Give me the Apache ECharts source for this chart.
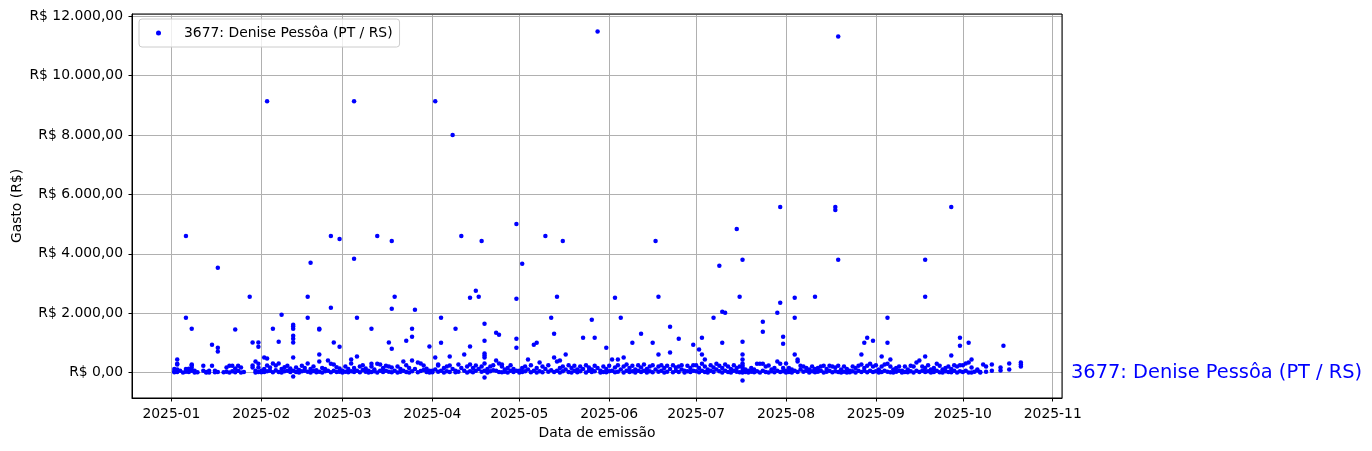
<!DOCTYPE html>
<html>
<head>
<meta charset="utf-8">
<script src="https://cdn.jsdelivr.net/npm/echarts@6/dist/echarts.min.js"></script>
<style>
html,body{margin:0;padding:0;background:#fff;}
#chart{width:1372px;height:451px;}
</style>
</head>
<body>
<div id="chart"></div>
<script>
// ---- data: [day of month, value in R$] per month of 2025 ----
const seriesName = '3677: Denise Pessôa (PT / RS)';
const yAxisName = 'Gasto (R$)';
const xAxisName = 'Data de emissão';
const year = 2025;

const jan = [[2,120],[2,40],[2,10],[3,440],[3,300],[3,270],[3,100],[3,20],[4,60],[5,0],[6,4600],[6,1850],[6,120],[6,30],[7,130],[7,15],[8,1480],[8,250],[8,270],[8,160],[8,60],[9,0],[9,60],[10,10],[12,60],[12,230],[13,5],[13,20],[14,60],[14,0],[15,940],[15,230],[16,60],[16,10],[17,3530],[17,840],[17,710],[17,20],[19,10],[20,170],[20,30],[21,230],[21,0],[22,230],[22,40],[23,1450],[23,140],[23,10],[24,230],[24,60],[25,170],[25,0],[26,20],[28,2550],[29,1010],[29,235],[29,168],[30,370],[30,60],[30,0],[31,1010],[31,870],[31,300],[31,170],[31,20]];
const feb = [[1,60],[1,10],[2,504],[2,120],[2,20],[3,9140],[3,470],[3,235],[3,40],[4,168],[4,60],[5,1480],[5,302],[5,10],[6,235],[6,80],[7,1042],[7,302],[7,20],[8,1950],[8,120],[8,0],[9,180],[9,40],[10,60],[10,230],[11,20],[11,140],[12,1610],[12,1550],[12,1480],[12,1240],[12,1140],[12,1010],[12,504],[12,-130],[12,60],[13,170],[13,20],[14,90],[14,0],[15,230],[15,40],[16,60],[16,150],[17,2554],[17,1848],[17,302],[17,30],[18,3696],[18,120],[18,0],[19,200],[19,50],[20,80],[20,10],[21,1450],[21,1480],[21,605],[21,370],[21,30],[22,150],[22,0],[23,120],[23,40],[24,403],[24,60],[25,4600],[25,2180],[25,300],[25,10],[26,1010],[26,270],[26,60],[27,180],[27,20],[28,4500],[28,870],[28,140],[28,30]];
const mar = [[1,60],[1,0],[2,200],[2,30],[3,120],[3,10],[4,437],[4,302],[4,40],[5,9140],[5,3830],[5,150],[5,20],[6,1850],[6,538],[6,60],[7,200],[7,10],[8,90],[8,250],[9,30],[9,140],[10,60],[10,0],[11,1480],[11,300],[11,200],[11,20],[12,100],[12,40],[13,4600],[13,300],[13,0],[14,270],[14,60],[15,150],[15,20],[16,60],[16,230],[17,1010],[17,200],[17,30],[18,4435],[18,2150],[18,806],[18,170],[18,10],[19,2554],[19,60],[20,200],[20,0],[21,120],[21,30],[22,370],[22,60],[23,1075],[23,250],[23,20],[24,150],[24,0],[25,1480],[25,1210],[25,403],[25,40],[26,2117],[26,120],[27,336],[27,10],[28,302],[28,50],[29,90],[29,235],[30,20],[30,130],[31,874],[31,60],[31,0]];
const apr = [[1,60],[1,10],[2,9140],[2,504],[2,100],[3,269],[3,235],[3,30],[4,1848],[4,1008],[4,60],[5,150],[5,0],[6,200],[6,40],[7,538],[7,235],[7,20],[8,8000],[8,120],[9,1478],[9,60],[9,10],[10,269],[10,30],[11,4600],[11,150],[12,605],[12,60],[13,200],[13,0],[14,2520],[14,874],[14,269],[14,40],[15,150],[15,10],[16,2755],[16,235],[16,60],[17,2554],[17,120],[18,4435],[18,200],[18,30],[19,1646],[19,1075],[19,638],[19,571],[19,504],[19,302],[19,-168],[19,60],[20,120],[20,0],[21,200],[21,40],[22,80],[22,250],[23,1344],[23,403],[23,60],[24,1277],[24,302],[24,20],[25,269],[25,200],[25,10],[26,100],[26,30],[27,150],[27,0],[28,250],[28,60],[29,120],[29,20],[30,5006],[30,2486],[30,1142],[30,840],[30,60]];
const may = [[1,60],[1,0],[2,3662],[2,150],[2,20],[3,200],[3,40],[4,437],[4,100],[5,250],[5,10],[6,941],[6,60],[7,1008],[7,150],[7,0],[8,336],[8,40],[9,200],[9,10],[10,4600],[10,120],[11,250],[11,30],[12,1848],[12,80],[13,504],[13,1310],[13,20],[14,2554],[14,370],[14,60],[15,403],[15,150],[15,0],[16,4435],[16,200],[16,40],[17,605],[17,100],[18,250],[18,20],[19,150],[19,0],[20,60],[20,230],[21,100],[21,10],[22,200],[22,40],[23,1176],[23,120],[24,250],[24,0],[25,60],[25,170],[26,1781],[26,100],[26,20],[27,1176],[27,230],[27,40],[28,11491],[28,150],[29,60],[29,0],[30,200],[30,20],[31,840],[31,120],[31,10]];
const jun = [[1,230],[1,40],[2,437],[2,60],[3,2520],[3,170],[3,10],[4,437],[4,250],[4,30],[5,1848],[5,100],[6,504],[6,200],[6,0],[7,60],[7,270],[8,150],[8,20],[9,1008],[9,230],[9,40],[10,100],[10,0],[11,250],[11,60],[12,1310],[12,170],[12,20],[13,270],[13,60],[14,120],[14,0],[15,200],[15,40],[16,1008],[16,250],[16,10],[17,4435],[17,100],[18,2554],[18,605],[18,200],[18,30],[19,250],[19,60],[20,150],[20,0],[21,230],[21,30],[22,1546],[22,672],[22,120],[23,250],[23,10],[24,170],[24,60],[25,1142],[25,200],[25,20],[26,100],[26,250],[27,60],[27,0],[28,230],[28,40],[29,150],[29,20],[30,941],[30,250],[30,60]];
const jul = [[1,250],[1,40],[2,773],[2,150],[2,10],[3,1176],[3,605],[3,300],[3,60],[4,437],[4,200],[4,20],[5,100],[5,0],[6,250],[6,60],[7,1848],[7,170],[7,20],[8,300],[8,100],[9,3595],[9,230],[9,40],[10,1008],[10,2050],[10,150],[10,0],[11,2016],[11,270],[11,60],[12,200],[12,20],[13,120],[13,0],[14,250],[14,60],[15,4838],[15,150],[15,30],[16,2554],[16,200],[16,10],[17,3797],[17,1042],[17,605],[17,437],[17,302],[17,235],[17,168],[17,-269],[17,60],[17,0],[18,100],[18,20],[19,60],[19,0],[20,150],[20,30],[21,100],[21,10],[22,300],[22,40],[23,300],[23,0],[24,1714],[24,1378],[24,300],[24,60],[25,200],[25,20],[26,235],[26,0],[27,100],[27,40],[28,150],[28,10],[29,2016],[29,370],[29,60],[30,5578],[30,2352],[30,300],[30,20],[31,1210],[31,974],[31,150],[31,40]];
const aug = [[1,302],[1,60],[1,0],[2,150],[2,20],[3,100],[3,0],[4,2520],[4,1848],[4,605],[4,60],[5,437],[5,370],[5,20],[6,230],[6,100],[7,200],[7,30],[8,60],[8,150],[9,100],[9,0],[10,200],[10,40],[11,2554],[11,120],[11,10],[12,150],[12,30],[13,200],[13,60],[14,230],[14,0],[15,120],[15,30],[16,230],[16,60],[17,200],[17,10],[18,5578],[18,5477],[18,170],[18,40],[19,11323],[19,3797],[19,230],[19,20],[20,100],[20,0],[21,200],[21,30],[22,120],[22,0],[23,60],[23,10],[24,200],[24,40],[25,150],[25,0],[26,230],[26,60],[27,605],[27,270],[27,20],[28,1008],[28,150],[28,60],[29,1176],[29,230],[29,10],[30,300],[30,60],[31,1075],[31,200],[31,20]];
const sep = [[1,250],[1,40],[2,100],[2,0],[3,538],[3,200],[3,20],[4,270],[4,60],[5,1848],[5,1008],[5,300],[5,30],[6,437],[6,200],[6,10],[7,100],[7,0],[8,150],[8,30],[9,200],[9,60],[10,60],[10,0],[11,200],[11,20],[12,100],[12,10],[13,230],[13,40],[14,200],[14,0],[15,336],[15,60],[16,403],[16,20],[17,200],[17,60],[18,3797],[18,2554],[18,538],[18,150],[18,20],[19,250],[19,40],[20,100],[20,0],[21,150],[21,20],[22,300],[22,60],[23,230],[23,10],[24,100],[24,0],[25,150],[25,40],[26,200],[26,20],[27,5578],[27,571],[27,120],[27,10],[28,250],[28,60],[29,200],[29,0],[30,1176],[30,907],[30,250],[30,40]];
const oct = [[1,250],[1,20],[2,302],[2,60],[3,1008],[3,336],[3,0],[4,437],[4,168],[4,0],[5,30],[6,101],[6,67],[7,0],[7,20],[8,269],[9,202],[9,30],[11,269],[11,60],[14,168],[14,67],[15,907],[17,302],[17,101],[21,336],[21,269],[21,202]];

const months = [jan, feb, mar, apr, may, jun, jul, aug, sep, oct];
const yTickStep = 2000;
// x-axis view range, in days counted from 1 Jan 2025
const xViewDays = [-13.6, 307.2];

// ---- build ----
const DAY = 86400000;
const points = [];
months.forEach((arr, m) => {
  arr.forEach(([d, v]) => points.push([new Date(year, m, d).getTime(), v]));
});
const ys = points.map(p => p[1]);
const yMin0 = Math.min(...ys), yMax0 = Math.max(...ys);
const yPad = (yMax0 - yMin0) * 0.05;
const t0 = new Date(year, 0, 1).getTime();

function brl(v) {
  const neg = v < 0;
  const s = Math.abs(v).toFixed(2).split('.');
  const i = s[0].replace(/\B(?=(\d{3})+(?!\d))/g, '.');
  return 'R$ ' + (neg ? '-' : '') + i + ',' + s[1];
}
function pad2(n){ return (n < 10 ? '0' : '') + n; }

const FONT = 'DejaVu Sans';
const chart = echarts.init(document.getElementById('chart'), null, {renderer: 'canvas'});
chart.setOption({
  animation: false,
  backgroundColor: '#ffffff',
  textStyle: {fontFamily: FONT},
  grid: {left: 132, right: 310, top: 14, bottom: 53, show: true, borderColor: '#000', borderWidth: 1,
         containLabel: false, outerBoundsMode: 'none', z: 3},
  legend: {
    data: [{name: seriesName, icon: 'circle'}],
    left: 139, top: 19,
    itemWidth: 5, itemHeight: 5,
    padding: [7, 7, 7, 17],
    backgroundColor: 'rgba(255,255,255,0.8)',
    borderColor: '#cccccc', borderWidth: 1, borderRadius: 3,
    selectedMode: false,
    textStyle: {fontFamily: FONT, fontSize: 13.9, color: '#000', padding: [0, 0, 0, 18]}
  },
  xAxis: {
    type: 'time',
    min: t0 + xViewDays[0] * DAY, max: t0 + xViewDays[1] * DAY,
    splitNumber: 10,
    minInterval: 28 * DAY, maxInterval: 31 * DAY,
    name: xAxisName, nameLocation: 'middle', nameGap: 28, nameMoveOverlap: false,
    nameTextStyle: {fontFamily: FONT, fontSize: 13.9, color: '#000'},
    axisLine: {show: true, onZero: false, lineStyle: {color: '#000', width: 1}},
    axisTick: {show: true, length: 3.5, lineStyle: {color: '#000', width: 1}},
    axisLabel: {
      fontFamily: FONT, fontSize: 13.9, color: '#000', margin: 9,
      showMinLabel: false, showMaxLabel: false, hideOverlap: false,
      formatter: function (val) {
        const d = new Date(val);
        if (d.getDate() !== 1 || d.getHours() !== 0) return '';
        return d.getFullYear() + '-' + pad2(d.getMonth() + 1);
      }
    },
    splitLine: {show: true, lineStyle: {color: '#b0b0b0', width: 1}}
  },
  yAxis: {
    type: 'value',
    min: yMin0 - yPad, max: yMax0 + yPad,
    splitNumber: 6,
    name: yAxisName, nameLocation: 'middle', nameGap: 108, nameMoveOverlap: false,
    nameTextStyle: {fontFamily: FONT, fontSize: 13.9, color: '#000'},
    axisLine: {show: true, onZero: false, lineStyle: {color: '#000', width: 1}},
    axisTick: {show: true, length: 3.5, lineStyle: {color: '#000', width: 1}},
    axisLabel: {
      fontFamily: FONT, fontSize: 13.9, color: '#000', margin: 9,
      showMinLabel: false, showMaxLabel: false,
      formatter: function (v) {
        if (Math.abs(v / yTickStep - Math.round(v / yTickStep)) > 1e-6) return '';
        return brl(v);
      }
    },
    splitLine: {show: true, lineStyle: {color: '#b0b0b0', width: 1}}
  },
  series: [{
    name: seriesName,
    type: 'scatter',
    symbol: 'circle',
    symbolSize: 4.5,
    itemStyle: {color: '#0000ff', opacity: 1},
    data: points,
    z: 4
  }],
  graphic: [{
    type: 'text',
    left: 1071, top: 363,
    style: {text: seriesName, fill: '#0000ff', font: '19.4px "DejaVu Sans"'}
  }]
});
</script>
</body>
</html>
